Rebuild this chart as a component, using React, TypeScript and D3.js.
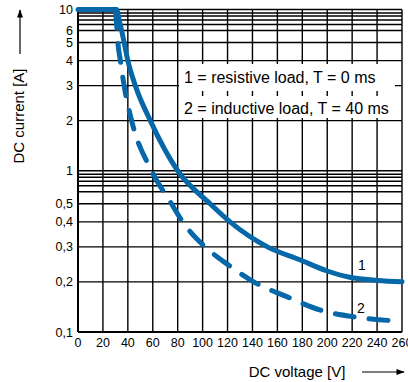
import React from "react";
import * as d3 from "d3";

const xTicks = [0, 20, 40, 60, 80, 100, 120, 140, 160, 180, 200, 220, 240, 260];
const yTicks = [0.1, 0.2, 0.3, 0.4, 0.5, 1, 2, 3, 4, 5, 6, 10];
const yTickLabels = ["0,1", "0,2", "0,3", "0,4", "0,5", "1", "2", "3", "4", "5", "6", "10"];
const yGrid = [0.1, 0.2, 0.3, 0.4, 0.5, 0.6, 0.7, 0.8, 0.9, 0.95, 1, 2, 3, 4, 5, 6, 7, 8, 9, 9.5, 10];

// curve 1: resistive load, T = 0 ms
const resV = [0, 31, 33, 35, 37, 40, 46, 58, 80, 106, 122, 152, 178, 200, 218, 240, 260];
const resI = [10, 10, 8, 6, 5, 4, 3, 2, 1, 0.5, 0.4, 0.3, 0.263, 0.231, 0.213, 0.204, 0.2];
// curve 2: inductive load, T = 40 ms
const indV = [30, 31, 32, 34, 37, 43, 59, 75, 84, 102, 120, 141, 168, 194, 222, 250, 260];
const indI = [10, 7, 5, 4, 3, 2, 1, 0.5, 0.4, 0.3, 0.25, 0.2, 0.17, 0.144, 0.13, 0.123, 0.122];

const legendLines = ["1 = resistive load, T = 0 ms", "2 = inductive load, T = 40 ms"];
const curveLabels = ["1", "2"];

const W = 408, H = 382;
const L = 78, R = 402, T = 9.5, B = 332;
const BLUE = "#0768a9";
const FONT = "'Liberation Sans', Arial, Helvetica, sans-serif";

const x = d3.scaleLinear().domain([0, 260]).range([L, R]);
// the chart's own (non-logarithmic) decade warp
const warp = d3.scaleLinear()
  .domain([1, 2, 3, 4, 5, 6, 7, 8, 9, 9.5, 10])
  .range([0, 0.311, 0.528, 0.683, 0.795, 0.87, 0.907, 0.935, 0.96, 0.978, 1]);
const decades = d3.scaleLinear().domain([-1, 1]).range([B, T]);
const y = (v: number) => {
  const e = Math.floor(Math.log10(v) + 1e-9);
  const m = v / Math.pow(10, e);
  return decades(e + warp(m));
};

const line = d3.line<[number, number]>()
  .x((d) => x(d[0]))
  .y((d) => y(d[1]))
  .curve(d3.curveMonotoneX);

const resData = resV.map((v, i) => [v, resI[i]] as [number, number]);
const indData = indV.map((v, i) => [v, indI[i]] as [number, number]);

export default function App() {
  return (
    <svg width={W} height={H} style={{ position: "absolute", left: 0, top: 0, background: "#fff" }} fontFamily={FONT}>
      <defs>
        <marker id="ah" viewBox="0 0 10 10" refX="9" refY="5" markerWidth="7" markerHeight="7" orient="auto">
          <path d="M0,1.5 L10,5 L0,8.5 z" fill="#000" />
        </marker>
      </defs>
      {/* grid */}
      {yGrid.map((v) => (
        <line key={"h" + v} x1={L} x2={R} y1={y(v)} y2={y(v)} stroke="#000" strokeWidth={1.4} />
      ))}
      {xTicks.map((v) => (
        <line key={"v" + v} x1={x(v)} x2={x(v)} y1={T} y2={B} stroke="#000" strokeWidth={v === 0 ? 2 : 1.4} />
      ))}
      <line x1={L} x2={R} y1={B} y2={B} stroke="#000" strokeWidth={2} />
      {/* legend boxes */}
      <rect x={179} y={64} width={216} height={27} fill="#fff" />
      <rect x={179} y={96} width={216} height={22} fill="#fff" />
      <text x={184} y={83} fontSize={16} fill="#000">{legendLines[0]}</text>
      <text x={184} y={114} fontSize={16} fill="#000">{legendLines[1]}</text>
      {/* curves */}
      <path d={line(indData) || ""} fill="none" stroke={BLUE} strokeWidth={5} strokeDasharray="19 15" strokeLinecap="round" />
      <path d={line(resData) || ""} fill="none" stroke={BLUE} strokeWidth={5} strokeLinecap="round" strokeLinejoin="round" />
      <text x={362} y={270} fontSize={14} textAnchor="middle">{curveLabels[0]}</text>
      <text x={361} y={313} fontSize={14} textAnchor="middle">{curveLabels[1]}</text>
      {/* y tick labels */}
      {yTicks.map((v, i) => (
        <text key={"yl" + v} x={73} y={y(v)} dy="0.36em" fontSize={12.5} textAnchor="end">{yTickLabels[i]}</text>
      ))}
      {/* x tick labels */}
      {xTicks.map((v) => (
        <text key={"xl" + v} x={x(v)} y={347} fontSize={12.5} textAnchor="middle">{v}</text>
      ))}
      {/* axis titles */}
      <text transform="translate(24,116) rotate(-90)" fontSize={15} textAnchor="middle">DC current [A]</text>
      <line x1={20} x2={20} y1={54} y2={10} stroke="#000" strokeWidth={1.2} markerEnd="url(#ah)" />
      <text x={297} y={377} fontSize={15} textAnchor="middle">DC voltage [V]</text>
      <line x1={362} x2={404} y1={372} y2={372} stroke="#000" strokeWidth={1.2} markerEnd="url(#ah)" />
    </svg>
  );
}
